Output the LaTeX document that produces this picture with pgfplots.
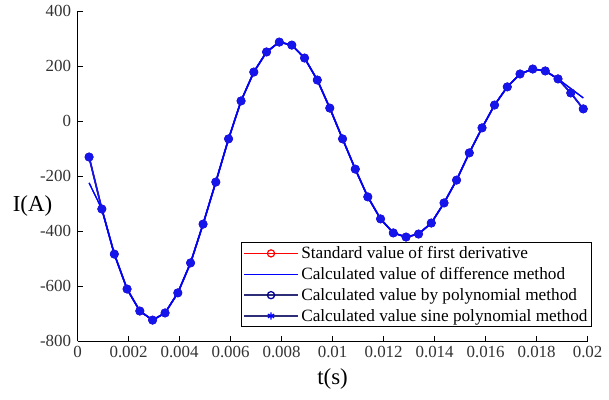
\documentclass[border=0pt]{standalone}
\usepackage{pgfplots}
\pgfplotsset{compat=1.18}
\usepackage{pgfplotstable}
\usepackage{fontspec}
\setmainfont{Liberation Serif}

\definecolor{navyline}{RGB}{45,45,120}
\definecolor{markblue}{RGB}{20,20,235}

% t(s)  standard / polynomial / sine-polynomial values
\pgfplotstableread{
t        v
0.00045  -131
0.00095  -320
0.00144  -484
0.00194  -611
0.00244  -691
0.00294  -724
0.00343  -698
0.00393  -625
0.00443  -516
0.00492  -375
0.00542  -222
0.00592  -65
0.00641  73
0.00691  178
0.00741  251
0.00791  287
0.00840  276
0.00890  229
0.00940  149
0.00989  47
0.01039  -65
0.01089  -175
0.01138  -276
0.01188  -356
0.01238  -407
0.01288  -422
0.01337  -411
0.01387  -371
0.01437  -298
0.01486  -215
0.01536  -116
0.01586  -25
0.01635  58
0.01685  124
0.01735  171
0.01785  189
0.01834  182
0.01884  153
0.01934  102
0.01983  44
}\exact

% difference method (deviates at both ends)
\pgfplotstableread{
t        v
0.00045  -225
0.00095  -320
0.00144  -484
0.00194  -611
0.00244  -691
0.00294  -724
0.00343  -698
0.00393  -625
0.00443  -516
0.00492  -375
0.00542  -222
0.00592  -65
0.00641  73
0.00691  178
0.00741  251
0.00791  287
0.00840  276
0.00890  229
0.00940  149
0.00989  47
0.01039  -65
0.01089  -175
0.01138  -276
0.01188  -356
0.01238  -407
0.01288  -422
0.01337  -411
0.01387  -371
0.01437  -298
0.01486  -215
0.01536  -116
0.01586  -25
0.01635  58
0.01685  124
0.01735  171
0.01785  189
0.01834  182
0.01884  153
0.01934  118
0.01983  84
}\diff

\begin{document}
\begin{tikzpicture}
\begin{axis}[
    scale only axis,
    width=510bp, height=330bp,
    xmin=0, xmax=0.02,
    ymin=-800, ymax=400,
    axis x line*=bottom,
    axis y line*=left,
    axis line style={black, line width=0.7pt},
    tick align=inside,
    major tick length=5bp,
    tick style={black, line width=0.7pt},
    scaled x ticks=false,
    /pgf/number format/assume math mode=true,
    xtick={0,0.002,0.004,0.006,0.008,0.01,0.012,0.014,0.016,0.018,0.02},
    xticklabels={0,0.002,0.004,0.006,0.008,0.01,0.012,0.014,0.016,0.018,0.02},
    ytick={-800,-600,-400,-200,0,200,400},
    yticklabels={-800,-600,-400,-200,0,200,400},
    ticklabel style={font=\fontsize{17}{19}\selectfont, text=black!80},
    xticklabel style={yshift=-2bp},
    yticklabel style={xshift=-3bp},
    xlabel={t(s)},
    ylabel={I(A)},
    label style={font=\fontsize{23}{26}\selectfont},
    xlabel style={yshift=-4bp},
    ylabel style={rotate=-90, yshift=-30bp, xshift=19bp},
    legend cell align=left,
    legend style={
        at={(1.0086,0.042)}, anchor=south east,
        draw=black, line width=1pt,
        font=\fontsize{17.3}{19}\selectfont,
        inner sep=1.5bp, row sep=2.3bp,
        nodes={inner sep=2.5bp}
    },
    legend image code/.code={
        \draw[mark repeat=2, mark phase=2, #1, line width=1.5pt]
            plot coordinates {(-5bp,0bp) (22bp,0bp) (49bp,0bp)};
    },
]
\addplot[red, line width=1.2pt, mark=o, mark size=3.6pt,
    mark options={line width=1.2pt}] table[x=t, y=v] {\exact};
\addlegendentry{Standard value of first derivative}
\addplot[blue, line width=1.2pt] table[x=t, y=v] {\diff};
\addlegendentry{Calculated value of difference method}
\addplot[navyline, line width=1.2pt, mark=o, mark size=3.6pt,
    mark options={draw=blue!60!black, line width=1.3pt}] table[x=t, y=v] {\exact};
\addlegendentry{Calculated value by polynomial method}
\addplot[navyline, line width=1.2pt, mark=asterisk, mark size=3.6pt,
    mark options={blue, line width=1.4pt}] table[x=t, y=v] {\exact};
\addlegendentry{Calculated value sine polynomial method}
% filled look of the overlapping markers in the plot area
\addplot[forget plot, markblue, line width=1.8pt, mark=*, mark size=3.6pt,
    mark options={fill=markblue, draw=markblue}] table[x=t, y=v] {\exact};
\addplot[forget plot, blue, line width=1.2pt] table[x=t, y=v] {\diff};
\end{axis}
\pgfresetboundingbox
\path[use as bounding box] (current axis.south west) ++(-77.6bp,-59bp)
    rectangle ++(609bp,400bp);
\end{tikzpicture}
\end{document}
